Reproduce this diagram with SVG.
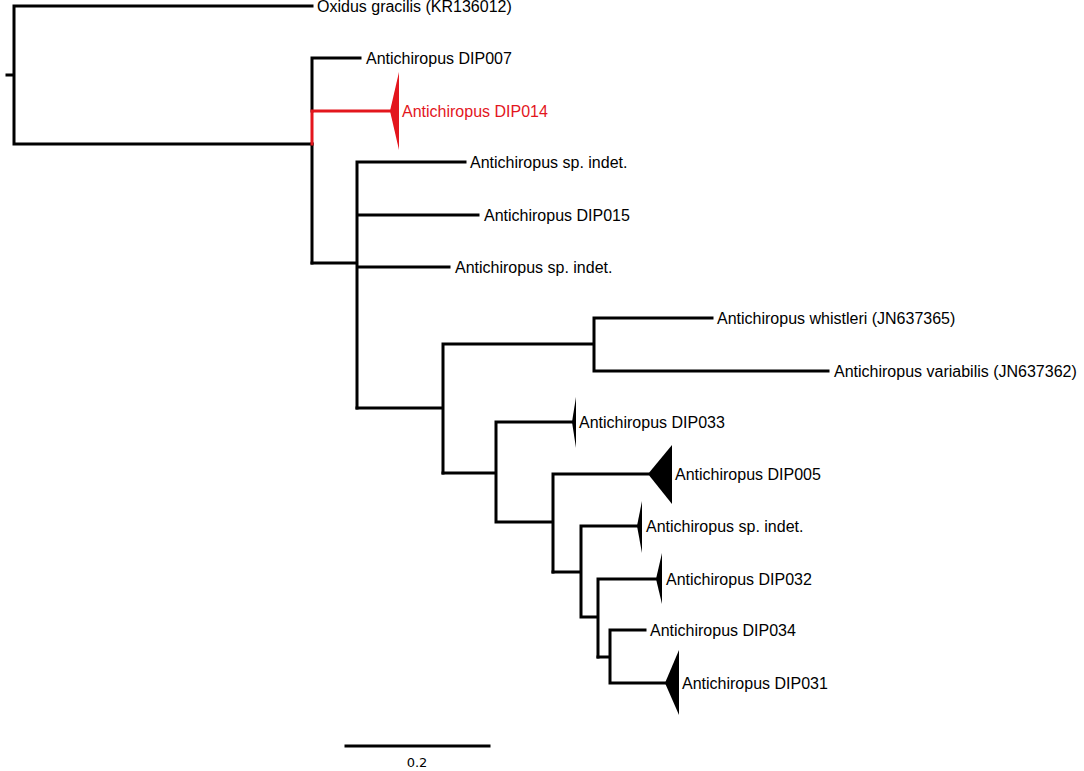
<svg xmlns="http://www.w3.org/2000/svg" width="1084" height="771" viewBox="0 0 1084 771">
<defs>
<style>
.br{fill:none;stroke:#000;stroke-width:3;stroke-linecap:square;stroke-linejoin:miter}
.red{stroke:#e3161d}
.lb{font-family:"Liberation Sans",Arial,sans-serif;font-size:16px;fill:#000}
.lr{fill:#e3161d}
.tri{fill:#000;stroke:none}
.trr{fill:#e3161d;stroke:none}
.sc{font-family:"DejaVu Sans",Verdana,sans-serif;font-size:13px;fill:#000;text-anchor:middle}
</style>
</defs>
<rect width="1084" height="771" fill="#fff"/>
<g id="connectors">
<path class="br" d="M7,75H14M14,6V144M14,6H312M14,144H312"/>
<path class="br" d="M312,58V111M312,144V263M312,58H360"/>
<path class="br red" d="M312,111V144M312,111H390"/>
<path class="br" d="M312,263H357M357,162V408M357,162H465M357,215H478M357,267H449"/>
<path class="br" d="M357,408H443M443,344V473M443,344H594M594,318V371M594,318H712M594,371H828"/>
<path class="br" d="M443,473H496M496,422V522M496,422H573M496,522H553M553,474V572M553,474H648"/>
<path class="br" d="M553,572H581M581,526V617M581,526H637M581,617H598M598,579V657M598,579H656"/>
<path class="br" d="M598,657H610M610,630V683M610,630H645M610,683H665"/>
</g>
<g id="oxidus"><text class="lb" x="317" y="12">Oxidus gracilis (KR136012)</text></g>
<g id="dip007"><text class="lb" x="366" y="64">Antichiropus DIP007</text></g>
<g id="dip014"><polygon class="trr" points="390,111 399,72 399,150"/><text class="lb lr" x="402" y="117">Antichiropus DIP014</text></g>
<g id="spindet1"><text class="lb" x="470" y="168">Antichiropus sp. indet.</text></g>
<g id="dip015"><text class="lb" x="484" y="221">Antichiropus DIP015</text></g>
<g id="spindet2"><text class="lb" x="455" y="273">Antichiropus sp. indet.</text></g>
<g id="whistleri"><text class="lb" x="717" y="324">Antichiropus whistleri (JN637365)</text></g>
<g id="variabilis"><text class="lb" x="834" y="377">Antichiropus variabilis (JN637362)</text></g>
<g id="dip033"><polygon class="tri" points="572,422 576,397 576,448"/><text class="lb" x="579" y="428">Antichiropus DIP033</text></g>
<g id="dip005"><polygon class="tri" points="648,474 672,445 672,504"/><text class="lb" x="675" y="480">Antichiropus DIP005</text></g>
<g id="spindet3"><polygon class="tri" points="637,526 642,501 642,553"/><text class="lb" x="646" y="532">Antichiropus sp. indet.</text></g>
<g id="dip032"><polygon class="tri" points="656,579 662,553 662,604"/><text class="lb" x="666" y="585">Antichiropus DIP032</text></g>
<g id="dip034"><text class="lb" x="650" y="636">Antichiropus DIP034</text></g>
<g id="dip031"><polygon class="tri" points="665,683 679,650 679,715"/><text class="lb" x="682" y="689">Antichiropus DIP031</text></g>
<g id="scalebar"><path class="br" d="M346,746H489"/><text class="sc" x="417" y="767">0.2</text></g>
</svg>
